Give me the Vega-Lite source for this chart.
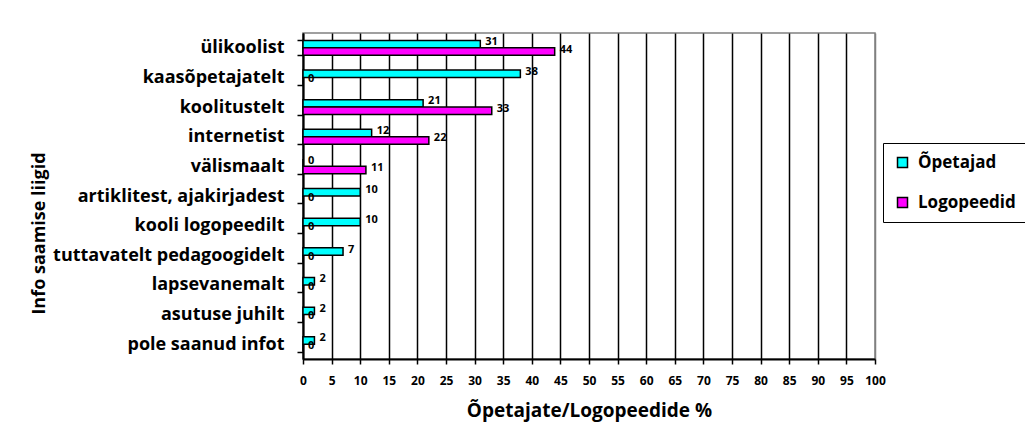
{
  "$schema": "https://vega.github.io/schema/vega-lite/v6.json",
  "width": 572,
  "height": 326,
  "autosize": {"type": "none"},
  "padding": {"left": 303, "top": 33, "right": 150, "bottom": 69},
  "background": "white",
  "config": {
    "font": "Open Sans",
    "view": {"stroke": "#808080", "strokeWidth": 1.5}
  },
  "data": {
    "values": [
      {"cat": "ülikoolist", "grp": "Õpetajad", "v": 31},
      {"cat": "ülikoolist", "grp": "Logopeedid", "v": 44},
      {"cat": "kaasõpetajatelt", "grp": "Õpetajad", "v": 38},
      {"cat": "kaasõpetajatelt", "grp": "Logopeedid", "v": 0},
      {"cat": "koolitustelt", "grp": "Õpetajad", "v": 21},
      {"cat": "koolitustelt", "grp": "Logopeedid", "v": 33},
      {"cat": "internetist", "grp": "Õpetajad", "v": 12},
      {"cat": "internetist", "grp": "Logopeedid", "v": 22},
      {"cat": "välismaalt", "grp": "Õpetajad", "v": 0},
      {"cat": "välismaalt", "grp": "Logopeedid", "v": 11},
      {"cat": "artiklitest, ajakirjadest", "grp": "Õpetajad", "v": 10},
      {"cat": "artiklitest, ajakirjadest", "grp": "Logopeedid", "v": 0},
      {"cat": "kooli logopeedilt", "grp": "Õpetajad", "v": 10},
      {"cat": "kooli logopeedilt", "grp": "Logopeedid", "v": 0},
      {"cat": "tuttavatelt pedagoogidelt", "grp": "Õpetajad", "v": 7},
      {"cat": "tuttavatelt pedagoogidelt", "grp": "Logopeedid", "v": 0},
      {"cat": "lapsevanemalt", "grp": "Õpetajad", "v": 2},
      {"cat": "lapsevanemalt", "grp": "Logopeedid", "v": 0},
      {"cat": "asutuse juhilt", "grp": "Õpetajad", "v": 2},
      {"cat": "asutuse juhilt", "grp": "Logopeedid", "v": 0},
      {"cat": "pole saanud infot", "grp": "Õpetajad", "v": 2},
      {"cat": "pole saanud infot", "grp": "Logopeedid", "v": 0}
    ]
  },
  "encoding": {
    "y": {
      "field": "cat",
      "type": "nominal",
      "sort": null,
      "scale": {"paddingInner": 0.5, "paddingOuter": 0.25},
      "axis": {
        "title": "Info saamise liigid",
        "titleFontSize": 18,
        "titleFontWeight": "bold",
        "titleColor": "black",
        "titleAngle": -90,
        "titleX": -259,
        "titleY": 200,
        "titleAlign": "center",
        "titleBaseline": "alphabetic",
        "labelFontSize": 18,
        "labelFontWeight": "bold",
        "labelColor": "black",
        "labelPadding": 13,
        "labelLimit": 320,
        "tickBand": "extent",
        "tickSize": 6,
        "tickColor": "black",
        "tickWidth": 1.5,
        "domainColor": "black",
        "domainWidth": 2,
        "grid": false
      }
    },
    "yOffset": {"field": "grp", "type": "nominal", "sort": ["Õpetajad", "Logopeedid"]},
    "x": {
      "field": "v",
      "type": "quantitative",
      "scale": {"domain": [0, 100]},
      "axis": {
        "title": "Õpetajate/Logopeedide %",
        "titleFontSize": 19,
        "titleFontWeight": "bold",
        "titleColor": "black",
        "titleX": 286,
        "titleY": 57,
        "titleAlign": "center",
        "titleBaseline": "alphabetic",
        "values": [0, 5, 10, 15, 20, 25, 30, 35, 40, 45, 50, 55, 60, 65, 70, 75, 80, 85, 90, 95, 100],
        "labelFontSize": 12,
        "labelFontWeight": "bold",
        "labelColor": "black",
        "labelPadding": 11,
        "labelFlush": false,
        "tickSize": 5,
        "tickColor": "black",
        "tickWidth": 1.5,
        "domainColor": "black",
        "domainWidth": 2,
        "grid": true,
        "gridColor": {"condition": {"test": "datum.value == 100", "value": "#808080"}, "value": "black"},
        "gridWidth": 1.5,
        "gridOpacity": 1
      }
    }
  },
  "layer": [
    {
      "mark": {"type": "bar", "stroke": "black", "strokeWidth": 1.5},
      "encoding": {
        "color": {
          "field": "grp",
          "type": "nominal",
          "sort": ["Õpetajad", "Logopeedid"],
          "scale": {"domain": ["Õpetajad", "Logopeedid"], "range": ["#00FFFF", "#FF00FF"]},
          "legend": {
            "title": null,
            "orient": "none",
            "legendX": 580,
            "legendY": 110,
            "strokeColor": "black",
            "padding": 11,
            "labelFontSize": 17,
            "labelFontWeight": "bold",
            "labelColor": "black",
            "labelOffset": 7,
            "rowPadding": 22,
            "symbolType": "square",
            "symbolSize": 100,
            "symbolStrokeColor": "black",
            "symbolStrokeWidth": 1.5
          }
        }
      }
    },
    {
      "mark": {"type": "text", "align": "left", "dx": 5, "dy": -2, "fontSize": 11, "fontWeight": "bold", "color": "black"},
      "encoding": {
        "text": {"field": "v", "type": "quantitative"}
      }
    }
  ]
}
